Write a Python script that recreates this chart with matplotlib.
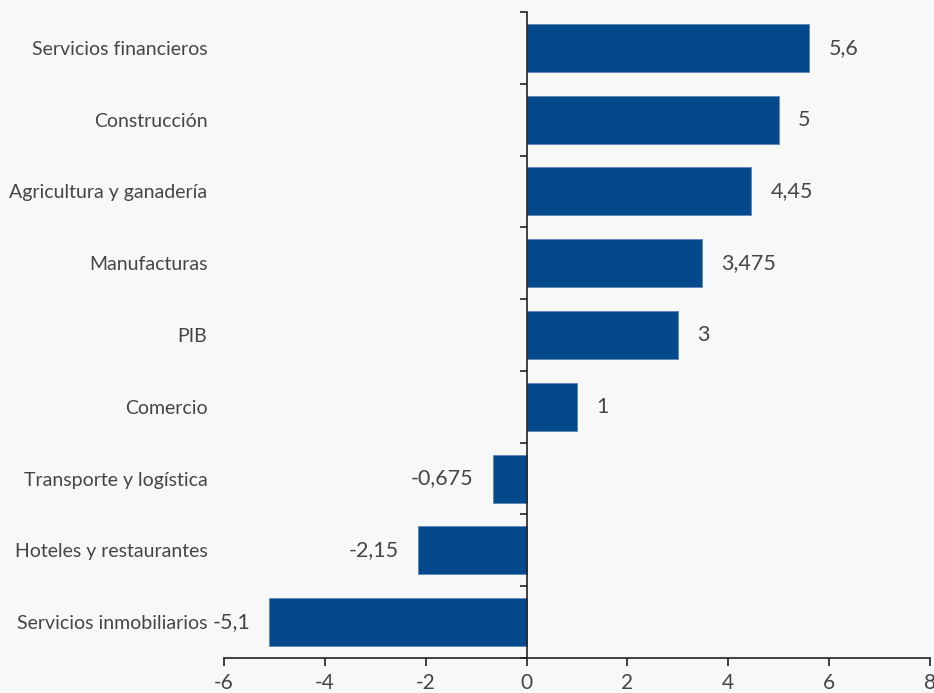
import matplotlib
matplotlib.use("Agg")
import matplotlib.pyplot as plt
from matplotlib.ticker import FixedLocator

categories = ["Servicios financieros", "Construcción", "Agricultura y ganadería",
              "Manufacturas", "PIB", "Comercio", "Transporte y logística",
              "Hoteles y restaurantes", "Servicios inmobiliarios"]
values = [5.6, 5.0, 4.45, 3.475, 3.0, 1.0, -0.675, -2.15, -5.1]
x_ticks = [-6, -4, -2, 0, 2, 4, 6, 8]

bar_color = "#04498c"
text_color = "#454545"
bg = "#f8f8f8"

plt.rcParams['font.family'] = ['Lato', 'DejaVu Sans']
plt.rcParams['font.weight'] = 'normal'

fig = plt.figure(figsize=(9.34, 6.93), dpi=100, facecolor=bg)
ax = fig.add_axes([0.2398, 0.0505, 0.7559, 0.9322], facecolor=bg)

n = len(categories)
ypos = list(range(n))
ax.barh(ypos, values, height=0.67, color=bar_color, edgecolor="#5a86b8", linewidth=0.6, zorder=2)

ax.set_xlim(-6, 8)
ax.set_ylim(n - 0.5, -0.5)
ax.set_xticks(x_ticks)
ax.set_xticklabels([str(t) for t in x_ticks])

ax.set_yticks(ypos)
ax.set_yticklabels(categories)
ax.yaxis.set_minor_locator(FixedLocator([i - 0.5 for i in range(n + 1)]))

for s in ["top", "left"]:
    ax.spines[s].set_visible(False)
ax.spines["right"].set_position(("data", 0))
ax.spines["right"].set_color("#222222")
ax.spines["bottom"].set_color("#222222")
ax.spines["right"].set_linewidth(1.2)
ax.spines["bottom"].set_linewidth(1.2)

ax.tick_params(axis="y", which="major", length=0, pad=12, labelsize=14, labelcolor=text_color)
ax.tick_params(axis="y", which="minor", left=False, right=True, direction="in", length=5, width=1.2, color="#222222")
ax.tick_params(axis="x", which="major", direction="out", length=6, width=1.2, color="#222222",
               labelsize=15, labelcolor=text_color, pad=5)

for y, v in zip(ypos, values):
    lab = ("%g" % v).replace(".", ",")
    if v >= 0:
        ax.annotate(lab, (v, y), xytext=(14, 0), textcoords="offset points",
                    ha="left", va="center", fontsize=15.5, color=text_color)
    else:
        ax.annotate(lab, (v, y), xytext=(-14, 0), textcoords="offset points",
                    ha="right", va="center", fontsize=15.5, color=text_color)

fig.savefig("out.png", dpi=100, facecolor=bg)
